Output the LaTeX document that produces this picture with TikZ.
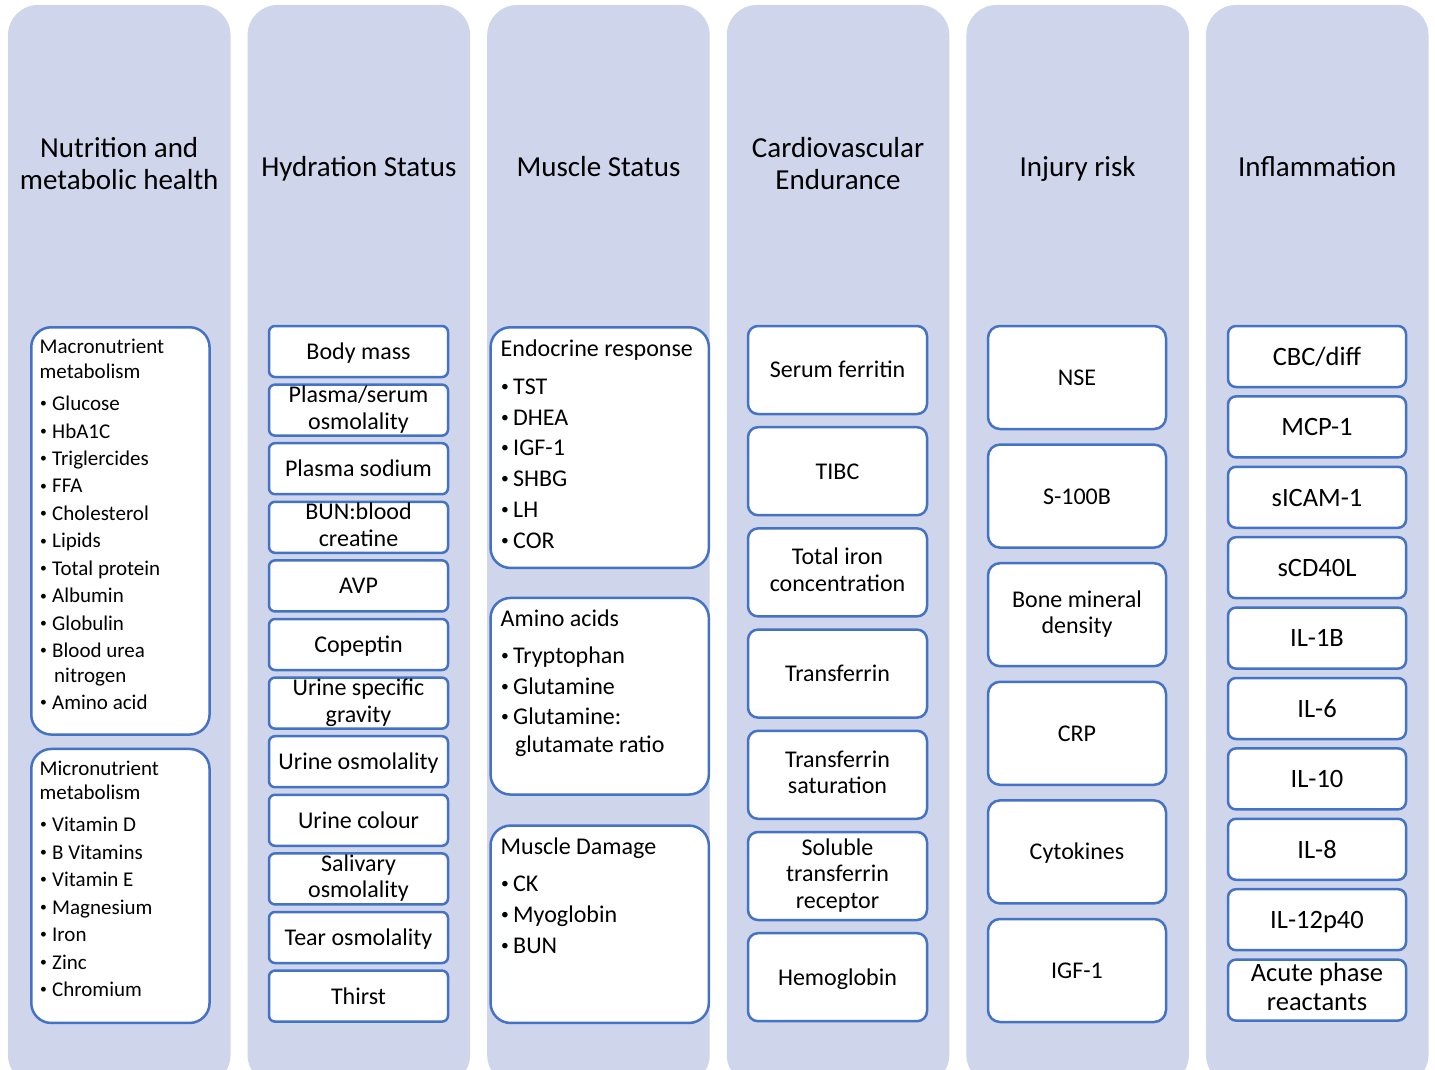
\documentclass[tikz,border=0pt]{standalone}
\usepackage{fontspec}
\usepackage{graphicx}
\setmainfont{Carlito}
\definecolor{lanefill}{HTML}{CFD5EA}
\definecolor{edgeblue}{HTML}{4472C4}
\newcommand{\bul}{\makebox[14.5pt][l]{\hspace{2.5pt}\raisebox{0.12em}{\scalebox{0.65}{\textbullet}}}}
\newcommand{\cstrut}{\rule[-0.2\baselineskip]{0pt}{\baselineskip}}
\tikzset{
  lane/.style={fill=lanefill, rounded corners=30pt},
  head/.style={align=center, inner sep=0pt, font=\fontsize{29}{32}\selectfont,
    execute at begin node=\cstrut, execute at end node=\cstrut},
  bigbox/.style={draw=edgeblue, line width=2.5pt, fill=white, rounded corners=20pt,
    anchor=north west, inner sep=0pt},
  cell/.style={draw=edgeblue, line width=2.5pt, fill=white, align=center, inner sep=0pt,
    font=\fontsize{24}{26.5}\selectfont, execute at begin node=\cstrut, execute at end node=\cstrut},
  hydcell/.style={cell, rounded corners=6pt, minimum width=179pt, minimum height=51pt},
  cardcell/.style={cell, rounded corners=10pt, minimum width=179pt, minimum height=88pt},
  injcell/.style={cell, rounded corners=12pt, minimum width=178pt, minimum height=103pt},
  infcell/.style={cell, rounded corners=8pt, minimum width=178pt, minimum height=61pt,
    font=\fontsize{26.5}{29}\selectfont},
  smalltxt/.style={anchor=base west, inner sep=0pt, yshift=-1.5pt, font=\fontsize{21}{24}\selectfont},
  listtxt/.style={anchor=base west, inner sep=0pt, yshift=-1.5pt, font=\fontsize{24}{27}\selectfont},
}
\begin{document}
\begin{tikzpicture}[x=1pt, y=-1pt]
\useasboundingbox (0,0) rectangle (1435,1070);
\clip (0,0) rectangle (1435,1070);
% columns
\foreach \c in {0,...,5}
  \fill[lane] ({8+239.6*\c},5) rectangle ++(222.5,1080);

% column headings
\node[head] (hnut) at (119.25,166.5) {Nutrition and\\metabolic health};
\node[head] (hhyd) at (358.85,166.5) {Hydration Status};
\node[head] (hmus) at (598.45,166.5) {Muscle Status};
\node[head] (hcar) at (838.05,166.5) {Cardiovascular\\Endurance};
\node[head] (hinj) at (1077.65,166.5) {Injury risk};
\node[head] (hinf) at (1317.25,166.5) {Inflammation};

% nutrition
\node[bigbox, minimum width=178.3pt, minimum height=407.3pt] (macro) at (30,326) {};
\node[bigbox, minimum width=178.3pt, minimum height=274pt] (micro) at (30,747.7) {};
\foreach \y/\txt [count=\i] in {352/Macronutrient, 376.7/metabolism, 680.5/{\hspace{14.5pt}nitrogen},
    774.3/Micronutrient, 798.3/metabolism}
  \node[smalltxt] (nuth\i) at (39.5,\y) {\txt};
\foreach \y/\txt [count=\i] in {409/Glucose, 436.5/HbA1C, 464/Triglercides, 491.4/FFA,
    518.8/Cholesterol, 546.3/Lipids, 573.7/Total protein, 601.2/Albumin, 628.6/Globulin,
    656/Blood urea, 707.5/Amino acid,
    830/Vitamin D, 857.5/B Vitamins, 885/Vitamin E, 912.5/Magnesium, 940/Iron,
    967.5/Zinc, 995/Chromium}
  \node[smalltxt] (nuti\i) at (37.5,\y) {\bul\txt};

% hydration
\foreach \txt [count=\k from 0] in {Body mass, Plasma/serum\\osmolality, Plasma sodium,
    BUN:blood\\creatine, AVP, Copeptin, Urine specific\\gravity, Urine osmolality,
    Urine colour, Salivary\\osmolality, Tear osmolality, Thirst}
  \node[hydcell] (hyd\k) at (358.5,{351.5+58.6*\k}) {\txt};

% muscle
\node[bigbox, minimum width=218.3pt, minimum height=240.7pt] (endo) at (489.3,326) {};
\node[bigbox, minimum width=218.3pt, minimum height=196.6pt] (amino) at (489.3,596.7) {};
\node[bigbox, minimum width=218.3pt, minimum height=197.4pt] (damage) at (489.3,824.3) {};
\foreach \y/\txt [count=\i] in {355/Endocrine response, 625/Amino acids,
    750.5/{\hspace{14.3pt}glutamate ratio}, 853.3/Muscle Damage}
  \node[listtxt] (mush\i) at (500.5,\y) {\txt};
\foreach \y/\txt [count=\i] in {392.7/TST, 423.5/DHEA, 454.3/IGF-1, 485.1/SHBG, 515.9/LH,
    546.7/COR, 662.3/Tryptophan, 693.1/Glutamine, 723.3/Glutamine:, 890/CK,
    920.8/Myoglobin, 951.6/BUN}
  \node[listtxt] (musi\i) at (498.5,\y) {\bul\txt};

% cardiovascular
\foreach \txt [count=\k from 0] in {Serum ferritin, TIBC, Total iron\\concentration,
    Transferrin, Transferrin\\saturation, Soluble\\transferrin\\receptor, Hemoglobin}
  \node[cardcell] (car\k) at (837.5,{370+101.2*\k}) {\txt};

% injury
\foreach \txt [count=\k from 0] in {NSE, S-100B, Bone mineral\\density, CRP, Cytokines, IGF-1}
  \node[injcell] (inj\k) at (1077,{377.5+118.6*\k}) {\txt};

% inflammation
\foreach \txt [count=\k from 0] in {CBC/diff, MCP-1, sICAM-1, sCD40L, IL-1B, IL-6, IL-10,
    IL-8, IL-12p40, Acute phase\\reactants}
  \node[infcell] (inf\k) at (1317,{356.5+70.4*\k}) {\txt};
\end{tikzpicture}
\end{document}
